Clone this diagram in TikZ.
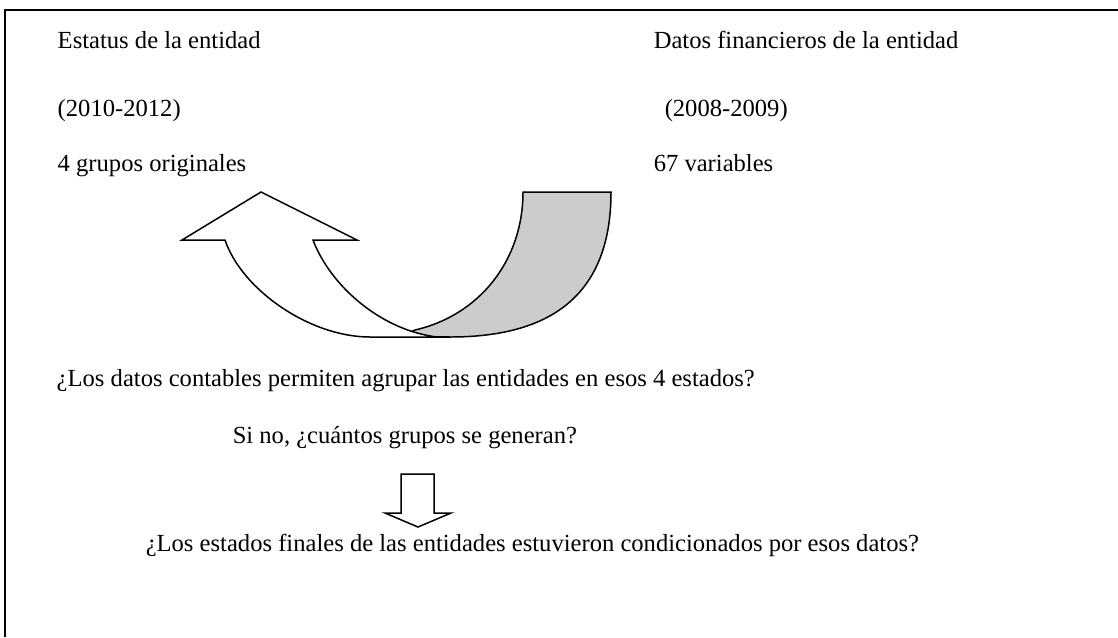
\documentclass[tikz,border=0pt]{standalone}
\usepackage{fontspec}
\setmainfont{Liberation Serif}
\tikzset{txt/.style={anchor=base west,inner sep=0pt,font=\fontsize{14}{16}\selectfont}}
\begin{document}
\begin{tikzpicture}[x=0.02cm,y=-0.02cm,line width=0.85pt]
        \useasboundingbox (0,0) rectangle (1118,637);
        \draw (5,637)--(5,10)--(1118,10);
        \node[txt] (st) at (57,48) {Estatus de la entidad};
        \node[txt] (df) at (653,48) {Datos financieros de la entidad};
        \node[txt] (a1) at (57,116) {(2010-2012)};
        \node[txt] (a2) at (664,116) {(2008-2009)};
        \node[txt] (gr) at (57,171) {4 grupos originales};
        \node[txt] (va) at (653,171) {67 variables};
        % flecha curva
        \draw[fill=black!20] (523,192)--(611,192) .. controls (611,300) and (545,337) .. (450,337)
            --(400,337)--(415,330) .. controls (480,315) and (523,260) .. (523,192)--cycle;
        \draw[fill=white] (225,240)--(182,240)--(261,192)--(357,240)--(313,240)
            .. controls (330,285) and (380,330) .. (437,337)--(370,337)
            .. controls (310,337) and (242,290) .. (225,240)--cycle;
        \draw (437,337)--(450,337);
        \node[txt] (q1) at (56,386) {¿Los datos contables permiten agrupar las entidades en esos 4 estados?};
        \node[txt] (q2) at (232,443) {Si no, ¿cuántos grupos se generan?};
        % flecha abajo
        \draw[fill=white] (401,474)--(434,474)--(434,513)--(451,513)--(418,527)--(385,513)--(401,513)--cycle;
        \node[txt] (q3) at (145,551) {¿Los estados finales de las entidades estuvieron condicionados por esos datos?};
\end{tikzpicture}
\end{document}
